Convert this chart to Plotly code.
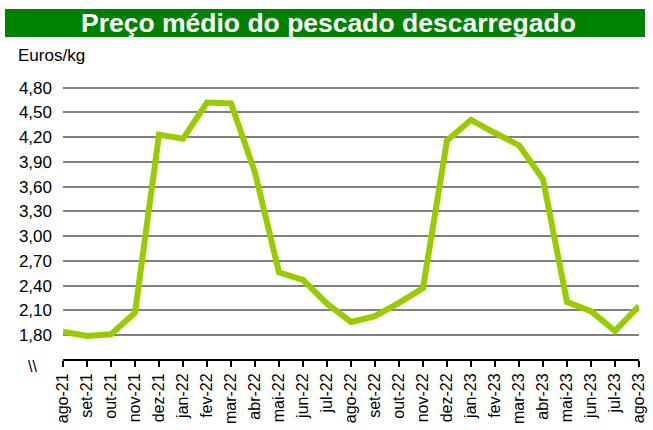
import plotly.graph_objects as go

months = ["ago-21", "set-21", "out-21", "nov-21", "dez-21", "jan-22", "fev-22", "mar-22",
          "abr-22", "mai-22", "jun-22", "jul-22", "ago-22", "set-22", "out-22", "nov-22",
          "dez-22", "jan-23", "fev-23", "mar-23", "abr-23", "mai-23", "jun-23", "jul-23", "ago-23"]
prices = [1.84, 1.79, 1.81, 2.07, 4.23, 4.18, 4.62, 4.61,
          3.77, 2.56, 2.47, 2.18, 1.96, 2.03, 2.19, 2.37,
          4.16, 4.41, 4.25, 4.10, 3.69, 2.20, 2.09, 1.85, 2.15]
y_ticks = [1.8, 2.1, 2.4, 2.7, 3.0, 3.3, 3.6, 3.9, 4.2, 4.5, 4.8]

W, H = 653, 430
L, R = 63, 14
T, B = 86, 71
pw, ph = W - L - R, H - T - B

def px_x(x):
    return (x - L) / pw

def px_y(y):
    return (H - B - y) / ph

fig = go.Figure()
fig.add_trace(go.Scatter(
    x=list(range(len(months))), y=prices, mode="lines",
    line=dict(color="#99CC00", width=6), hoverinfo="skip"
))

fig.update_layout(
    width=W, height=H,
    margin=dict(l=L, r=R, t=T, b=B, autoexpand=False),
    paper_bgcolor="white", plot_bgcolor="white",
    showlegend=False,
    font=dict(family="Liberation Sans, Arial", color="black"),
    xaxis=dict(
        range=[0, len(months) - 1], automargin=False,
        tickmode="array", tickvals=list(range(len(months))), ticktext=months,
        tickangle=-90, tickfont=dict(size=16),
        showgrid=False, zeroline=False,
        showline=True, linecolor="black", linewidth=2,
        ticks="outside", ticklen=6, tickwidth=2, tickcolor="black",
    ),
    yaxis=dict(
        range=[1.51, 4.82], automargin=False,
        tickmode="array", tickvals=y_ticks, ticktext=[f"{v:.2f}".replace(".", ",") for v in y_ticks],
        tickfont=dict(size=17), ticklabelstandoff=10,
        showgrid=True, gridcolor="#808080", gridwidth=2,
        zeroline=False, showline=False, ticks="",
    ),
    shapes=[dict(type="rect", xref="paper", yref="paper",
                 x0=px_x(5), x1=px_x(645), y0=px_y(37), y1=px_y(9),
                 fillcolor="#008000", line=dict(width=0), layer="above")],
    annotations=[
        dict(text="<b>Preço médio do pescado descarregado</b>", xref="paper", yref="paper",
             x=px_x(328), y=px_y(23), xanchor="center", yanchor="middle",
             showarrow=False, font=dict(size=26.5, color="white")),
        dict(text="Euros/kg", xref="paper", yref="paper",
             x=px_x(16), y=px_y(56), xanchor="left", yanchor="middle",
             showarrow=False, font=dict(size=17)),
        dict(text="\\\\", xref="paper", yref="paper",
             x=px_x(32), y=px_y(366), xanchor="center", yanchor="middle",
             showarrow=False, font=dict(size=16)),
    ],
)

fig.write_html("out.html", config={"displayModeBar": False},
               post_script="document.body.style.margin='0';")
